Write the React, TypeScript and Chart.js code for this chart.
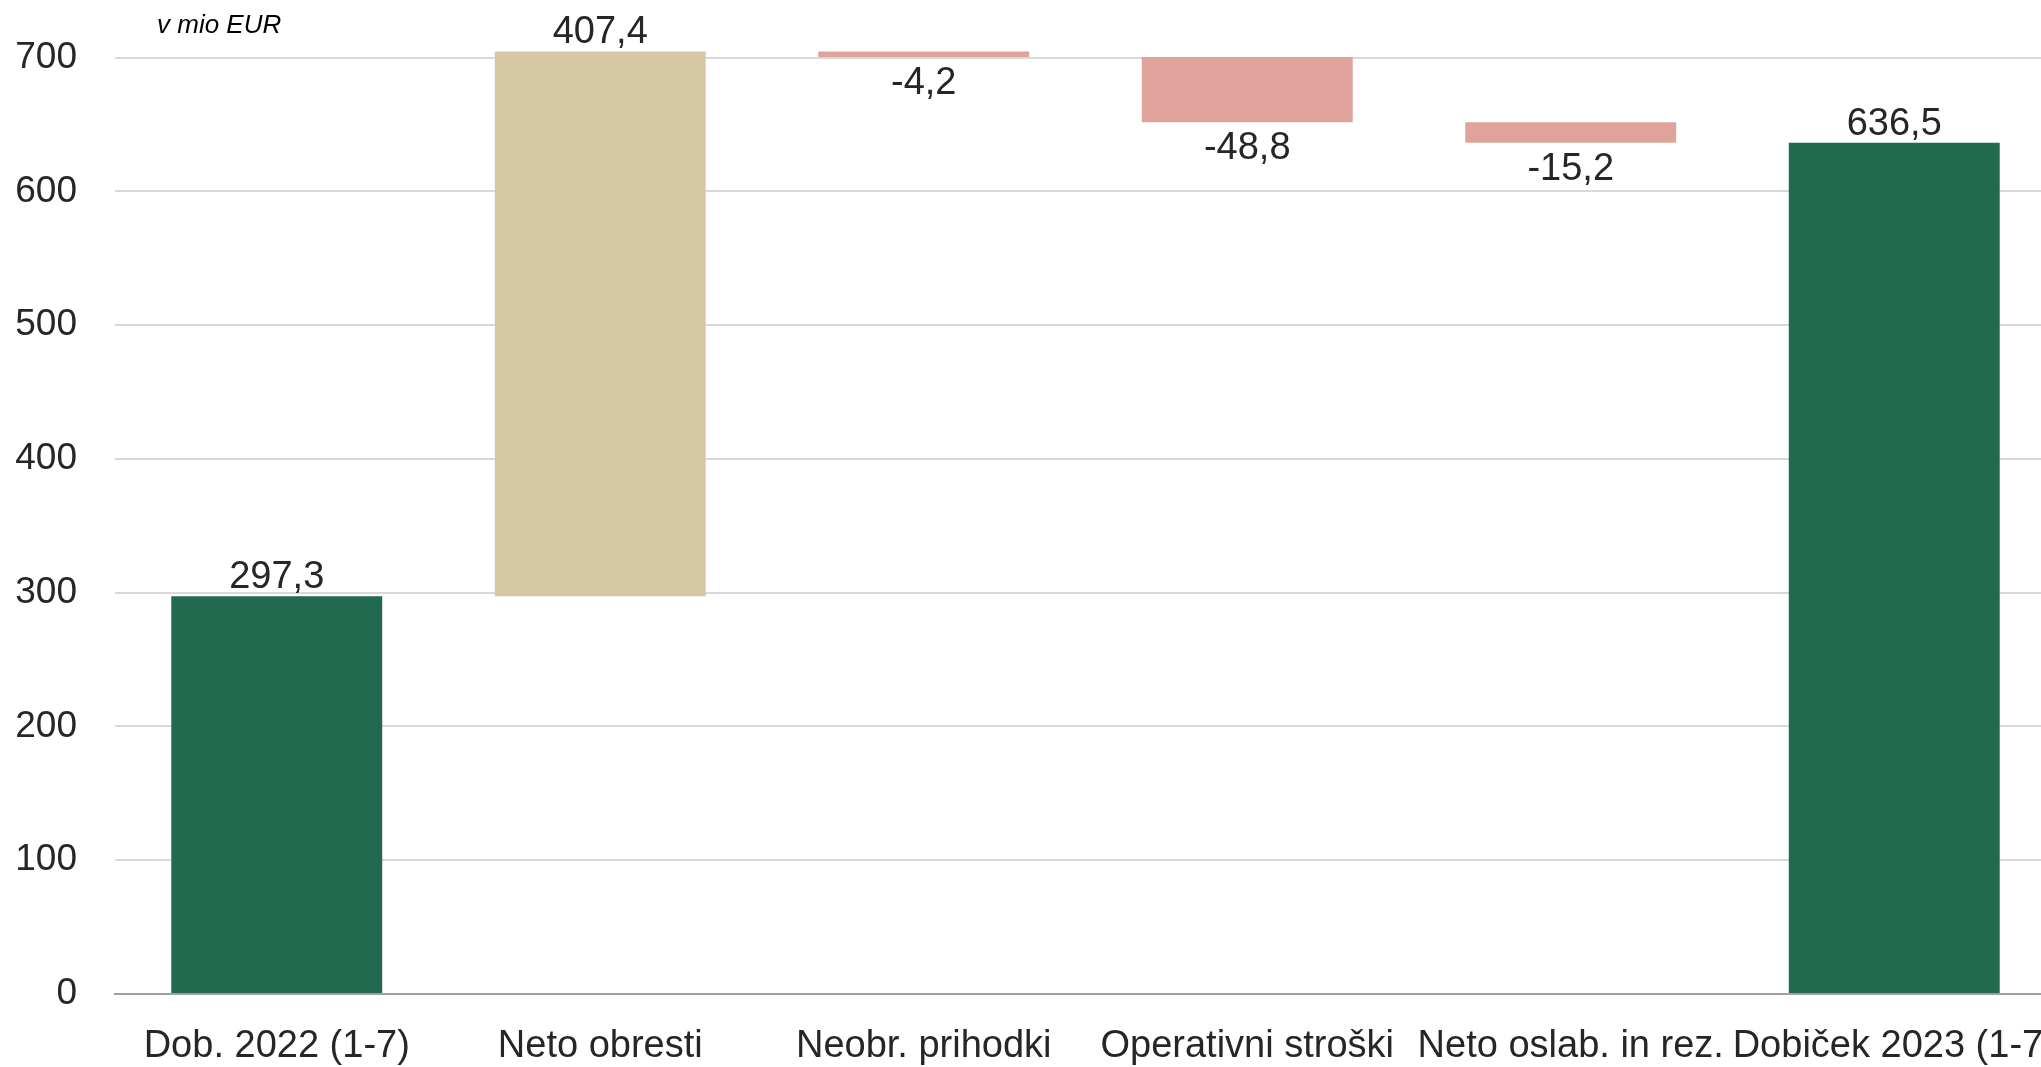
import React, { useEffect, useRef } from "react";
import { Chart, registerables } from "chart.js";

Chart.register(...registerables);

const categories = [
  "Dob. 2022 (1-7)",
  "Neto obresti",
  "Neobr. prihodki",
  "Operativni stroški",
  "Neto oslab. in rez.",
  "Dobiček 2023 (1-7)",
];
const changes = [297.3, 407.4, -4.2, -48.8, -15.2, 636.5];
const isTotal = [true, false, false, false, false, true];
const yTickValues = [0, 100, 200, 300, 400, 500, 600, 700];
const unitLabel = "v mio EUR";

const GREEN = "#216a4f";
const TAN = "#d6c8a2";
const PINK = "#dfa39c";
const FONT = "'Liberation Sans', Arial, sans-serif";

const SHIFT_Y = 60; // canvas is moved up so the plot area can start at the page top
const CANVAS_W = 2120;
const CANVAS_H = 1067 + SHIFT_Y;

function buildRanges(): [number, number][] {
  let running = 0;
  return changes.map((v, i) => {
    if (isTotal[i]) {
      running = v;
      return [0, v];
    }
    const start = running;
    running = Math.round((running + v) * 10) / 10;
    return [start, running];
  });
}

const fmt = (v: number) => v.toFixed(1).replace(".", ",");

export default function App() {
  const ref = useRef<HTMLCanvasElement | null>(null);

  useEffect(() => {
    if (!ref.current) return;
    const ranges = buildRanges();
    const colors = changes.map((v, i) => (isTotal[i] ? GREEN : v >= 0 ? TAN : PINK));

    const labelPlugin = {
      id: "wfLabels",
      afterDatasetsDraw(chart: any) {
        const ctx = chart.ctx;
        const meta = chart.getDatasetMeta(0);
        ctx.save();
        ctx.fillStyle = "#262626";
        ctx.font = `38px ${FONT}`;
        ctx.textAlign = "center";
        ctx.textBaseline = "alphabetic";
        meta.data.forEach((bar: any, i: number) => {
          const top = Math.min(bar.y, bar.base);
          const bottom = Math.max(bar.y, bar.base);
          const v = changes[i];
          if (v >= 0) {
            ctx.fillText(fmt(v), bar.x, top - 8);
          } else {
            ctx.fillText(fmt(v), bar.x, bottom + 37);
          }
        });
        ctx.font = `italic 26px ${FONT}`;
        ctx.textAlign = "left";
        ctx.fillStyle = "#000";
        ctx.fillText(unitLabel, 157, SHIFT_Y + 33);
        ctx.restore();
      },
    };

    const chart = new Chart(ref.current, {
      type: "bar",
      data: {
        labels: categories,
        datasets: [
          {
            data: ranges as any,
            backgroundColor: colors,
            borderWidth: 0,
            barPercentage: 0.652,
            categoryPercentage: 1,
          },
        ],
      },
      options: {
        responsive: false,
        animation: false,
        devicePixelRatio: 1,
        layout: { padding: { left: 15, right: CANVAS_W - 2056, top: 0, bottom: 0 } },
        plugins: {
          legend: { display: false },
          tooltip: { enabled: false },
          title: { display: false },
        },
        scales: {
          x: {
            grid: { display: false, drawTicks: false },
            border: { display: true, color: "#a0a0a0", width: 2 },
            ticks: {
              color: "#262626",
              font: { family: FONT, size: 38 },
              padding: 30,
              maxRotation: 0,
              autoSkip: false,
            },
            afterFit: (scale: any) => {
              scale.height = 73;
            },
          },
          y: {
            min: 0,
            max: 743,
            afterBuildTicks: (scale: any) => {
              scale.ticks = yTickValues.map((v) => ({ value: v }));
            },
            grid: { color: "#d9d9d9", lineWidth: 2, drawTicks: false },
            border: { display: false },
            ticks: {
              color: "#262626",
              font: { family: FONT, size: 37 },
              padding: 38,
              callback: (v: any) => String(v),
            },
            afterFit: (scale: any) => {
              scale.width = 100;
            },
          },
        },
      },
      plugins: [labelPlugin],
    });
    return () => chart.destroy();
  }, []);

  return (
    <div
      style={{
        position: "fixed",
        left: 0,
        top: 0,
        width: 2041,
        height: 1067,
        overflow: "hidden",
        background: "#fff",
      }}
    >
      <canvas
        ref={ref}
        width={CANVAS_W}
        height={CANVAS_H}
        style={{ display: "block", position: "absolute", left: 0, top: -SHIFT_Y }}
      />
    </div>
  );
}
